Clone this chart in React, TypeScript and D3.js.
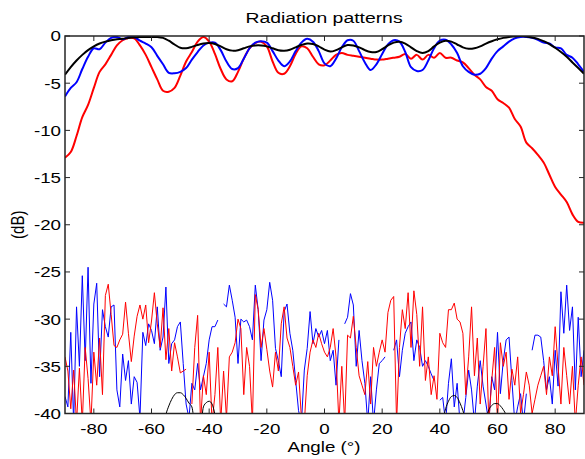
import React from 'react';
import * as d3 from 'd3';

// ---- data ----
const mainAngles = d3.range(-90, 91, 2); // 2 degree grid
const lowAngles = d3.range(-90, 91, 1); // 1 degree grid

const blackMain = [
  -4.1, -3.3, -2.6, -2.0, -1.5, -1.1, -0.8, -0.6, -0.45, -0.35,
  -0.3, -0.2, -0.15, -0.1, -0.1, -0.1, -0.1, -0.2, -0.5, -0.9,
  -1.25, -1.3, -1.15, -0.95, -0.8, -0.75, -0.85, -1.1, -1.4, -1.55,
  -1.5, -1.3, -1.1, -1.0, -1.0, -1.1, -1.3, -1.5, -1.55, -1.45,
  -1.2, -0.95, -0.8, -0.85, -1.1, -1.45, -1.65, -1.5, -1.2, -0.95,
  -1.0, -1.2, -1.5, -1.7, -1.7, -1.4, -1.0, -0.7, -0.6, -0.8,
  -1.2, -1.6, -1.8, -1.6, -1.1, -0.7, -0.5, -0.6, -0.9, -1.2,
  -1.35, -1.3, -1.1, -0.8, -0.55, -0.35, -0.2, -0.1, -0.05, 0,
  -0.05, -0.15, -0.3, -0.55, -0.85, -1.25, -1.7, -2.2, -2.8, -3.4, -4.0,
];

const redMain = [
  -12.9, -12.3, -10.6, -8.6, -7.3, -5.5, -3.8, -3.0, -2.0, -1.0,
  -0.45, -0.2, -0.25, -1.0, -2.0, -3.3, -4.6, -5.8, -5.9, -5.5,
  -4.2, -2.7, -1.7, -0.6, -0.1, -0.6, -1.9, -3.5, -4.6, -4.8,
  -3.8, -2.4, -1.3, -0.75, -0.6, -1.1, -2.7, -3.9, -4.0, -3.2,
  -1.9, -1.1, -1.3, -2.2, -3.0, -3.1, -2.6, -2.0, -1.8, -2.0,
  -2.1, -2.2, -2.3, -2.4, -2.5, -2.5, -2.4, -2.3, -2.2, -1.9,
  -2.4, -2.0, -2.5, -2.0, -2.3, -1.8, -2.3, -2.3, -2.6, -2.8,
  -3.4, -4.1, -4.6, -5.4, -5.8, -6.7, -7.1, -7.6, -8.8, -9.6,
  -11.3, -11.9, -12.6, -13.4, -14.7, -16.0, -16.8, -17.6, -18.9, -19.7, -19.8,
];

const blueMain = [
  -6.4, -5.5, -4.9, -3.5, -2.2, -1.3, -1.4, -0.7, -0.2, -0.1,
  -0.35, -0.1, -0.1, -0.5, -0.8, -1.2, -2.1, -3.0, -3.9, -3.95,
  -3.8, -3.4, -2.5, -1.7, -1.0, -0.7, -0.7, -1.5, -2.7, -3.5,
  -3.4, -2.4, -1.3, -0.7, -0.55, -0.7, -1.6, -2.6, -3.2, -2.7,
  -1.6, -0.7, -0.3, -0.6, -1.6, -2.9, -3.2, -2.4, -1.2, -0.45,
  -0.5, -1.6, -2.8, -3.6, -3.0, -1.9, -0.9, -0.45, -0.6, -1.7,
  -3.3, -3.7, -3.6, -2.6, -1.3, -0.5, -0.4, -0.9, -1.8, -3.2,
  -3.8, -4.1, -4.0, -3.4, -2.4, -1.6, -1.1, -0.6, -0.25, -0.1,
  -0.1, -0.2, -0.4, -0.7, -0.8, -1.2, -1.3, -2.0, -2.3, -3.0, -3.8,
];

const blueLow: (number | null)[] = [
  -38.2, -39.3, -31.4, -41, -28.7, -35, -25.4, -34.4, -24.5, -36.8,
  -28.4, -26.2, -36.1, -29, -30.8, -31.9, -28.7, -28.5, -37.5, -39.3,
  -33.7, -36.5, -34.4, -39, -36.1, -36.7, -40.5, -31.4, -32.8, -30.5,
  -31.2, -32.6, -28.7, -33.3, -31.9, -26.6, -34.7, -32.6, -32.2, -30.8,
  -30.3, -34.7, -39, -40.5, -36.8, -37.5, -34.7, -37.5, -36.1, -34.7,
  -32.2, -30.8, -30.8, -30.1, null, -28.4, -28.7, -26.4, -28, -29.8,
  -34.7, -30, -30.3, -30.1, -30.8, -32.2, -26.4, -29, -34.4, -30.1,
  -29, -26.1, -28, -33.1, -34.4, -36.1, -29.2, -28.4, -31.5, -33.3,
  -36.5, -39.7, -41, -35.4, -33.1, -29.2, -32.6, -31, -31.9, -31.2,
  -32.6, -31.2, -34.4, -33.3, -37, -32.2, null, -30.5, -29.8, -27.3,
  -28.5, -35, -31.2, -34.4, -36.8, -41, -36.1, -41, -37.5, -34.7,
  -34.4, -34, null, null, -33.3, -32.2, -36.1, -33.3, -31.5, -30.8,
  -30.3, -34.4, -32.2, -33, -35, -34.4, -35, -35.8, -36.5, null,
  -38.6, -38.3, -41, -36.8, -34.2, -39.3, -36.8, -41, -41, -38.3,
  -35.4, -37.5, -41, -37.1, -34.4, -37.1, -39, -41, -36.1, -37.5,
  -31.4, -37.9, -34.4, -32.2, -31.9, -36.5, -41, -39.3, -37.9, -41,
  -37.9, null, -33.3, -31.7, -31.7, -31.9, -34.4, -37.5, -36.1, -39,
  -33.3, -37.1, -27.1, -31.5, -26.4, -31.2, -28.7, -37.5, -29.8, -36.1,
  -33.3,
];

const redLow: (number | null)[] = [
  -34, -35.5, -39.5, -35.4, -41, -35.2, -41, -33, -36.3, -41,
  -33.5, -37, -32, -38, -27.5, -26.3, -29.5, -32.8, -33, -32.2,
  -31.6, -28.2, -31.5, -34.5, -31.8, -29.7, -28.5, -30, -28.5, -32.5,
  -30.2, -27.2, -30.5, -33, -28.8, -34.3, -31, -35.5, -32.5, -34,
  -35.7, -35.5, -35.3, null, -39, -33, -29.6, -41, -36, -38,
  -33.5, -41, -38, -33, -41, -35.5, -40.5, -34, -33.5, -32.5,
  -30, -31, -38, -33, -35, -41, -27.4, -29, -33, -31,
  -33.2, -35.5, -37.2, -33.5, -35.5, -30.5, -28.7, -32, -33, -35,
  -37, -35.6, -40.5, -41, -36, -33.5, -32.2, -33, -31.5, -32.6,
  -33.5, -34, -33, -31, -34, -41, -35, -41, -31.7, -32,
  -29.7, -33, -36, -37, -38, -34.5, -39, -33, -35, -33.5,
  -32.2, -33.5, -29.3, -28, -27.6, -41, -33, -29, -31, -27.2,
  -33, -27, -29.5, -35, -28.7, -36.5, -34, -38, -36, -38.5,
  -31.5, -32.5, -33, -29, -29, -28.3, -30, -30.3, -31.5, -38,
  -34, -28.7, -36, -32, -39, -35, -31, -41, -36.5, -33,
  -41, -32.5, -35, -33.5, -38.5, -35.3, -37, -34, -40, -38,
  -35.6, -37, -40, -38.5, -37, -36, -35, -38, -34, -36,
  -30.8, -35, -39, -33, -36, -39, -35, -41, -37, -34,
  -37,
];

const blackLowAngles = [
  -56, -55, -54, -53, -52, -51, -50, -49, -48, -47, -46, -45, -44,
  -43, -42, -41, -40, -39, -38, -37,
  40, 41, 42, 43, 44, 45, 46, 47, 48, 49, 50,
  55, 56, 57, 58, 59, 60, 61, 62, 63, 64, 65,
];
const blackLowValues = [
  -41.5, -40.1, -39.2, -38.5, -38.0, -37.8, -37.8, -38.0, -38.4, -38.9, -39.3, -41.5, -44,
  -42, -39.3, -38.85, -38.7, -39.0, -40.1, -42,
  -42.5, -40.8, -39.5, -38.7, -38.2, -38.1, -38.3, -38.9, -39.7, -40.8, -42.5,
  -42.5, -40.6, -39.6, -39.15, -38.95, -38.95, -39.2, -39.6, -40.2, -41.5, -43,
];

const xTicks = [-80, -60, -40, -20, 0, 20, 40, 60, 80];
const yTicks = [0, -5, -10, -15, -20, -25, -30, -35, -40];

const titleText = 'Radiation patterns';
const xLabelText = 'Angle (\u00b0)';
const yLabelText = '(dB)';

// ---- layout ----
const W = 585;
const H = 459;
const X0 = 65;
const X1 = 584;
const Y0 = 36;
const Y1 = 413.5;
const FONT = "'Liberation Sans', Arial, Helvetica, sans-serif";
const SX = 1.25;

const x = d3.scaleLinear().domain([-90, 90]).range([X0, X1]);
const y = d3.scaleLinear().domain([-40, 0]).range([Y1, Y0]);

function T(props: {
  x: number;
  y: number;
  text: string;
  anchor?: string;
  size?: number;
  rotate?: number;
}) {
  const { text, anchor = 'middle', size = 15, rotate = 0 } = props;
  return (
    <text
      transform={`translate(${props.x},${props.y}) scale(${SX},1) rotate(${rotate})`}
      textAnchor={anchor}
      fontFamily={FONT}
      fontSize={size}
      fill="#000"
    >
      {text}
    </text>
  );
}

export default function App() {
  const mainLine = (vals: number[]) =>
    d3
      .line<number>()
      .x((_, i) => x(mainAngles[i]))
      .y((v) => y(v))
      .curve(d3.curveCatmullRom.alpha(0.5))(vals) || '';

  const lowLine = (vals: (number | null)[], angs: number[]) =>
    d3
      .line<number | null>()
      .defined((v) => v !== null)
      .x((_, i) => x(angs[i]))
      .y((v) => y(v as number))(vals) || '';

  const blackLowLine =
    d3
      .line<number>()
      .defined((_, i) => i === 0 || blackLowAngles[i] - blackLowAngles[i - 1] === 1)
      .x((_, i) => x(blackLowAngles[i]))
      .y((v) => y(v))
      .curve(d3.curveMonotoneX)(blackLowValues) || '';

  const axisColor = '#262626';

  return (
    <svg
      width={W}
      height={H}
      style={{ position: 'absolute', left: 0, top: 0, background: '#fff' }}
    >
      <defs>
        <clipPath id="plotclip">
          <rect x={X0} y={Y0} width={X1 - X0} height={Y1 - Y0} />
        </clipPath>
      </defs>
      <rect x={0} y={0} width={W} height={H} fill="#fff" />

      <g clipPath="url(#plotclip)" fill="none" strokeLinejoin="round">
        <path d={lowLine(blueLow, lowAngles)} stroke="#0000ff" strokeWidth={1} />
        <path d={lowLine(redLow, lowAngles)} stroke="#ff0000" strokeWidth={1} />
        <path d={blackLowLine} stroke="#000" strokeWidth={1} />
        <path d={mainLine(redMain)} stroke="#ff0000" strokeWidth={2} />
        <path d={mainLine(blueMain)} stroke="#0000ff" strokeWidth={2} />
        <path d={mainLine(blackMain)} stroke="#000" strokeWidth={2} />
      </g>

      {/* axes box */}
      <rect
        x={X0}
        y={Y0}
        width={X1 - X0}
        height={Y1 - Y0}
        fill="none"
        stroke={axisColor}
        strokeWidth={1.5}
      />
      {xTicks.map((t) => (
        <g key={'xt' + t}>
          <line x1={x(t)} x2={x(t)} y1={Y1} y2={Y1 - 5} stroke={axisColor} strokeWidth={1} />
          <line x1={x(t)} x2={x(t)} y1={Y0} y2={Y0 + 5} stroke={axisColor} strokeWidth={1} />
          <T x={x(t)} y={433.5} text={String(t)} />
        </g>
      ))}
      {yTicks.map((t) => (
        <g key={'yt' + t}>
          <line x1={X0} x2={X0 + 5} y1={y(t)} y2={y(t)} stroke={axisColor} strokeWidth={1} />
          <line x1={X1} x2={X1 - 5} y1={y(t)} y2={y(t)} stroke={axisColor} strokeWidth={1} />
          <T x={61} y={y(t) + 5.4} text={String(t)} anchor="end" />
        </g>
      ))}

      <T x={324} y={22.7} text={titleText} size={15.5} />
      <T x={324} y={451.5} text={xLabelText} />
      <T x={24} y={(Y0 + Y1) / 2} text={yLabelText} rotate={-90} />
    </svg>
  );
}
